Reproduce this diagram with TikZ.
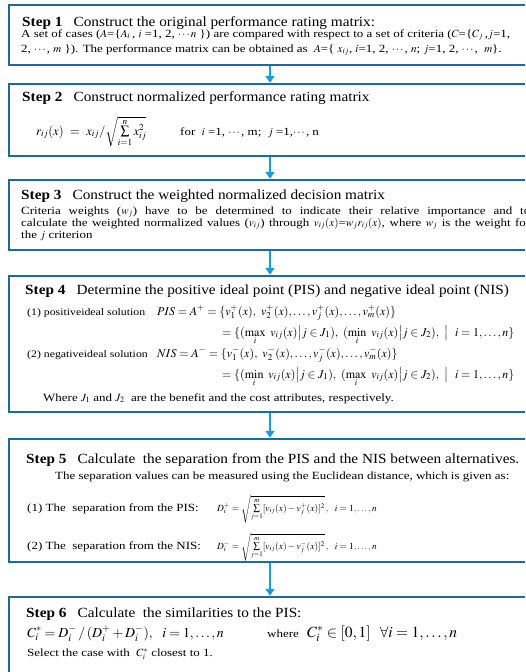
\documentclass[tikz,border=0pt]{standalone}
\usepackage{mathptmx}
\usepackage{amsmath}
\usepackage[no-math]{fontspec}
\setmainfont[FakeStretch=1.18]{Liberation Serif}
\newfontfamily\headfont[FakeStretch=1.09]{Liberation Serif}
\usetikzlibrary{arrows.meta, positioning, calc}
\definecolor{boxblue}{RGB}{28,108,152}
\definecolor{arrowblue}{RGB}{30,155,214}
\tikzstyle{stepbox} = [rectangle, draw=boxblue, line width=2.4pt, minimum width=522pt, inner sep=0pt]
\tikzstyle{arrow} = [draw=arrowblue, line width=2.6pt, -{Triangle[width=9pt,length=7pt]}]
\tikzstyle{head} = [anchor=base west, inner sep=0pt, font=\headfont\fontsize{14}{16}\selectfont]
\tikzstyle{body} = [anchor=base west, inner sep=0pt, font=\fontsize{11}{15}\selectfont]
\tikzstyle{label} = [anchor=base west, inner sep=0pt, font=\fontsize{10}{12}\selectfont]
\tikzstyle{bigmath} = [anchor=base west, inner sep=0pt, font=\fontsize{12}{15}\selectfont]
\tikzstyle{smallmath} = [anchor=base west, inner sep=0pt, font=\fontsize{9.4}{11}\selectfont]

\begin{document}
\begin{tikzpicture}[x=1pt, y=1pt]
    \useasboundingbox (0,0) rectangle (525,-672);
    \clip (0,0) rectangle (525,-672);

    % the six steps
    \node (s1) [stepbox, minimum height=60pt] at (270,-35) {};
    \node (s2) [stepbox, minimum height=72pt] at (270,-120) {};
    \node (s3) [stepbox, minimum height=70pt] at (270,-215) {};
    \node (s4) [stepbox, minimum height=136pt] at (270,-344) {};
    \node (s5) [stepbox, minimum height=123pt] at (270,-500.5) {};
    \node (s6) [stepbox, minimum height=103pt] at (270,-648.5) {};

    \foreach \a/\b in {s1/s2, s2/s3, s3/s4, s4/s5, s5/s6}
        \draw [arrow] (\a.south) -- (\b.north);

    % step 1
    \node (h1) [head] at (22,-26) {\textbf{Step 1}\hspace{0.8em}Construct the original performance rating matrix:};
    \node (b1) [body, align=left] at (21,-52) {A set of cases ($A$=\{$A_i$\,, $i$ =1, 2, $\cdots n$ \}) are compared with respect to a set of criteria ($C$=\{$C_j$\,,$j$=1,\\
        2, $\cdots$, $m$ \}). The performance matrix can be obtained as\ \ $A$=\{ $x_{ij}$, $i$=1, 2, $\cdots$, $n$; $j$=1, 2, $\cdots$,\ \ $m$\}.};

    % step 2
    \node (h2) [head] at (22,-101) {\textbf{Step 2}\hspace{0.8em}Construct normalized performance rating matrix};
    \node (f2) [body, font=\fontsize{12.5}{15}\selectfont] at (36,-135) {$r_{ij}(x)\ =\ x_{ij}/\sqrt{\sum\limits_{i=1}^{n}x_{ij}^{2}}$};
    \node (c2) [body] at (180,-135) {for\ \ $i$ =1, $\cdots$, m;\ \ $j$ =1,$\cdots$, n};

    % step 3
    \node (h3) [head] at (21,-199) {\textbf{Step 3}\hspace{0.8em}Construct the weighted normalized decision matrix};
    \node (b3) [body, font=\fontsize{11}{12}\selectfont, text width=509pt, align=justify] at (21,-214) {Criteria weights ($w_j$) have to be determined to indicate their relative importance and to\linebreak
        calculate the weighted normalized values ($v_{ij}$) through $v_{ij}(x)$=$w_jr_{ij}(x)$, where $w_j$ is the weight for\linebreak
        the $j$ criterion};

    % step 4
    \node (h4) [head] at (25,-294) {\textbf{Step 4}\hspace{0.8em}Determine the positive ideal point (PIS) and negative ideal point (NIS)};
    \node (p4) [label] at (27,-315) {(1) positiveideal solution};
    \node (e4a) [bigmath] at (157,-315) {$PIS = A^{+} = \{v_1^{+}(x),\ v_2^{+}(x),\ldots,v_j^{+}(x),\ldots,v_m^{+}(x)\}$};
    \node (e4b) [bigmath] at (222,-336) {$=\{(\max\limits_{i}\ v_{ij}(x)\big|j\in J_1),\ (\min\limits_{i}\ v_{ij}(x)\big|j\in J_2),\ \big|\ \ i=1,\ldots,n\}$};
    \node (n4) [label] at (27,-357) {(2) negativeideal solution};
    \node (e4c) [bigmath] at (157,-357) {$NIS = A^{-} = \{v_1^{-}(x),\ v_2^{-}(x),\ldots,v_j^{-}(x),\ldots,v_m^{-}(x)\}$};
    \node (e4d) [bigmath] at (222,-378) {$=\{(\min\limits_{i}\ v_{ij}(x)\big|j\in J_1),\ (\max\limits_{i}\ v_{ij}(x)\big|j\in J_2),\ \big|\ \ i=1,\ldots,n\}$};
    \node (w4) [body] at (43,-401) {Where $J_1$ and $J_2$\ \ are the benefit and the cost attributes, respectively.};

    % step 5
    \node (h5) [head] at (26,-463) {\textbf{Step 5}\hspace{0.8em}Calculate\ \ the separation from the PIS and the NIS between alternatives.};
    \node (d5) [body] at (55,-479) {The separation values can be measured using the Euclidean distance, which is given as:};
    \node (p5) [body] at (27,-511) {(1) The\ \ separation from the PIS:};
    \node (e5a) [smallmath] at (217,-511) {$D_i^{+}=\sqrt{\sum\limits_{j=1}^{m}[v_{ij}(x)-v_j^{+}(x)]^2}\,,\ \ i=1,\ldots,n$};
    \node (n5) [body] at (27,-549) {(2) The\ \ separation from the NIS:};
    \node (e5b) [smallmath] at (217,-549) {$D_i^{-}=\sqrt{\sum\limits_{j=1}^{m}[v_{ij}(x)-v_j^{-}(x)]^2}\,,\ \ i=1,\ldots,n$};

    % step 6
    \node (h6) [head] at (26,-617) {\textbf{Step 6}\hspace{0.8em}Calculate\ \ the similarities to the PIS:};
    \node (e6) [body, font=\fontsize{13.8}{16}\selectfont] at (27,-637) {$C_i^{*}=D_i^{-}\,/\,(D_i^{+}+D_i^{-}),\ \ i=1,\ldots,n$};
    \node (w6) [body] at (267,-637) {where};
    \node (r6) [body, font=\fontsize{15.5}{18}\selectfont] at (307,-637) {$C_i^{*}\in[0,1]\ \ \forall i=1,\ldots,n$};
    \node (sel6) [body] at (27,-656) {Select the case with\ \ $C_i^{*}$ closest to 1.};
\end{tikzpicture}
\end{document}
